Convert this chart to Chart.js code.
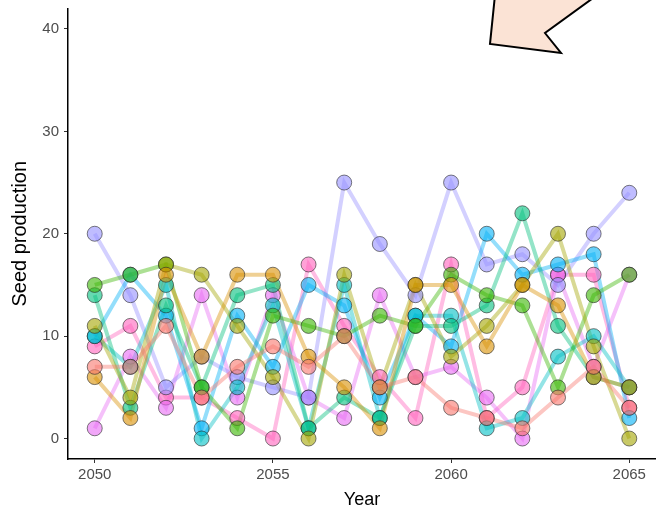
<!DOCTYPE html>
<html>
<head>
<meta charset="utf-8">
<script src="https://cdn.jsdelivr.net/npm/chart.js@4/dist/chart.umd.min.js"></script>
<style>
  html, body { margin: 0; padding: 0; background: #fff; }
  #wrap { width: 656px; height: 512px; }
</style>
</head>
<body>
<div id="wrap"><canvas id="seedChart" width="656" height="512"></canvas></div>
<script>
// years on the x axis
const years = [2050, 2051, 2052, 2053, 2054, 2055, 2056, 2057, 2058, 2059, 2060, 2061, 2062, 2063, 2064, 2065];

// seed production per population
const popA = [7, 7, 11, 4, 7, 9, 7, 10, 5, 6, 3, 2, 1, 4, 7, 3];
const popB = [6, 2, 16, 8, 16, 16, 8, 5, 1, 15, 15, 9, 15, 13, 6, 5];
const popC = [11, 4, 17, 16, 11, 6, 0, 16, 5, 15, 8, 11, 15, 20, 9, 0];
const popD = [15, 16, 17, 5, 1, 12, 11, 10, 12, 11, 16, 14, 13, 5, 14, 16];
const popE = [14, 3, 13, 5, 14, 15, 1, 4, 2, 11, 11, 13, 22, 11, 6, 5];
const popF = [10, 7, 15, 0, 5, 13, 1, 15, 2, 12, 12, 1, 2, 8, 10, 5];
const popG = [10, 16, 12, 1, 12, 7, 15, 13, 4, 12, 9, 20, 16, 17, 18, 2];
const popH = [20, 14, 5, 8, 6, 5, 4, 25, 19, 14, 25, 17, 18, 15, 20, 24];
const popI = [1, 8, 3, 14, 4, 14, 4, 2, 14, 6, 7, 4, 0, 16, 7, 16];
const popJ = [9, 11, 4, 4, 2, 0, 17, 11, 6, 2, 17, 2, 5, 16, 16, 3];

const allSeries = [popA, popB, popC, popD, popE, popF, popG, popH, popI, popJ];

// ggplot hue palette, 10 colours
const hues = ['248,118,109', '216,144,0', '163,165,0', '57,182,0', '0,191,125',
              '0,191,196', '0,176,246', '149,144,255', '231,107,243', '255,98,188'];

const yTicks = [0, 10, 20, 30, 40];
const xTicks = [2050, 2055, 2060, 2065];

// lines first (drawn underneath), then points on top
const datasets = [];
allSeries.forEach((vals, i) => {
  const pts = vals.map((v, k) => ({ x: years[k], y: v }));
  datasets.push({
    data: pts,
    showLine: true,
    borderColor: 'rgba(' + hues[i] + ',0.42)',
    borderWidth: 4,
    pointRadius: 0,
    order: 1
  });
  datasets.push({
    data: pts,
    showLine: false,
    backgroundColor: 'rgba(' + hues[i] + ',0.6)',
    borderColor: 'rgba(40,40,40,0.6)',
    borderWidth: 1,
    pointRadius: 7.5,
    order: 0
  });
});

// big peach arrow in the top right corner
const arrowPlugin = {
  id: 'arrow',
  afterDraw(chart) {
    const ctx = chart.ctx;
    ctx.save();
    ctx.beginPath();
    ctx.moveTo(495, -5);
    ctx.lineTo(490, 44);
    ctx.lineTo(561, 53);
    ctx.lineTo(545, 33);
    ctx.lineTo(600, -7);
    ctx.closePath();
    ctx.fillStyle = '#fbe3d5';
    ctx.fill();
    ctx.lineWidth = 2;
    ctx.strokeStyle = '#000';
    ctx.stroke();
    ctx.restore();
  }
};

// no extra room for overhanging tick labels
const noPad = (s) => { s.paddingLeft = 0; s.paddingRight = 0; s.paddingTop = 0; s.paddingBottom = 0; };

new Chart(document.getElementById('seedChart').getContext('2d'), {
  type: 'scatter',
  data: { datasets: datasets },
  plugins: [arrowPlugin],
  options: {
    responsive: false,
    animation: false,
    devicePixelRatio: 1,
    layout: { autoPadding: false, padding: { top: 8.5, right: 0, left: 0, bottom: 0 } },
    plugins: { legend: { display: false }, tooltip: { enabled: false } },
    scales: {
      x: {
        type: 'linear',
        min: 2049.25,
        max: 2065.75,
        afterBuildTicks: (s) => { s.ticks = xTicks.map(v => ({ value: v })); },
        afterFit: (s) => { s.height = 53; noPad(s); },
        grid: { drawOnChartArea: false, tickLength: 4, color: '#333' },
        border: { color: '#000', width: 1.5 },
        ticks: {
          color: '#4d4d4d',
          padding: 3,
          font: { family: 'Liberation Sans', size: 15 },
          callback: (v) => String(v)
        },
        title: {
          display: true,
          text: 'Year',
          color: '#000',
          font: { family: 'Liberation Sans', size: 18 },
          padding: { top: 0, bottom: 1 }
        }
      },
      y: {
        min: -2,
        max: 42,
        afterBuildTicks: (s) => { s.ticks = yTicks.map(v => ({ value: v })); },
        afterFit: (s) => { s.width = 68; noPad(s); },
        grid: { drawOnChartArea: false, tickLength: 4, color: '#333' },
        border: { color: '#000', width: 1.5 },
        ticks: {
          color: '#4d4d4d',
          padding: 5,
          font: { family: 'Liberation Sans', size: 15 }
        },
        title: {
          display: true,
          text: 'Seed production',
          color: '#000',
          font: { family: 'Liberation Sans', size: 20 },
          padding: { top: 8, bottom: 0 }
        }
      }
    }
  }
});
</script>
</body>
</html>
